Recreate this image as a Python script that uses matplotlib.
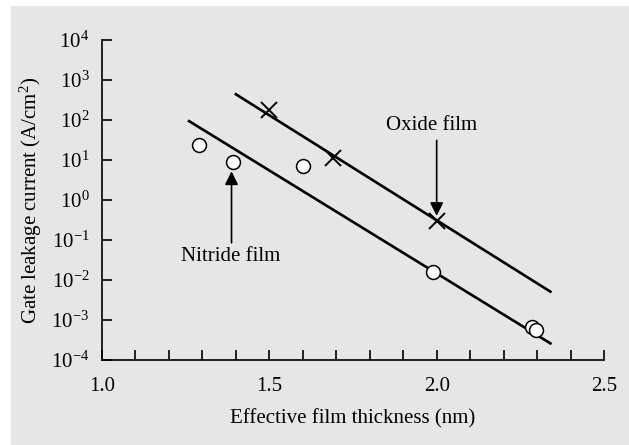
import numpy as np
import matplotlib.pyplot as plt
from matplotlib.patches import Rectangle

plt.rcParams['font.family'] = ['Liberation Serif', 'DejaVu Serif']
plt.rcParams['mathtext.fontset'] = 'custom'
plt.rcParams['mathtext.rm'] = 'Liberation Serif'
plt.rcParams['mathtext.it'] = 'Liberation Serif:italic'

# measured points
nitride_x = [1.29, 1.39, 1.60, 1.99, 2.286, 2.296]
nitride_y = [24, 9.1, 7.1, 0.016, 6.6e-4, 5.6e-4]
oxide_x = [1.50, 1.69, 2.00]
oxide_y = [178, 11, 0.30]

# fitted lines (end points)
nitride_fit_x = [1.26, 2.34]
nitride_fit_y = [94, 2.6e-4]
oxide_fit_x = [1.40, 2.34]
oxide_fit_y = [440, 5.1e-3]

ytick_vals = [10.0**e for e in range(-4, 5)]
ytick_labels = [r'$10^{%d}$' % e for e in range(-4, 5)]

fs = 15

fig = plt.figure(figsize=(6.29, 4.45), dpi=100, facecolor='white')
# grey panel behind the chart
fig.patches.append(Rectangle((11/629, 0), 1 - 11/629, 1 - 6/445,
                             transform=fig.transFigure, facecolor='#e6e6e6',
                             edgecolor='none', zorder=-10))
ax = fig.add_axes([102/629, 1 - 360/445, 502/629, 320/445])
ax.set_facecolor('none')

# fits
ax.plot(nitride_fit_x, nitride_fit_y, color='black', lw=1.9, zorder=2)
ax.plot(oxide_fit_x, oxide_fit_y, color='black', lw=1.9, zorder=2)
# data
ax.plot(nitride_x, nitride_y, 'o', ms=10, mfc='white', mec='black',
        mew=1.1, zorder=3)
ax.plot(oxide_x, oxide_y, 'x', ms=11, mec='black', mew=1.4, zorder=3)

# setup axes
ax.set_yscale('log')
ax.set_xlim(1.0, 2.5)
ax.set_ylim(1e-4, 1e4)
ax.set_yticks(ytick_vals)
ax.set_yticklabels(ytick_labels)
ax.yaxis.set_minor_locator(plt.NullLocator())
ax.set_xticks(np.arange(1.0, 2.51, 0.5))
ax.set_xticklabels(['1.0', '1.5', '2.0', '2.5'])
ax.set_xticks(np.arange(1.0, 2.51, 0.1), minor=True)
ax.tick_params(which='both', direction='in', length=7, width=1.2,
               labelsize=fs)
ax.tick_params(axis='y', pad=9)
ax.tick_params(axis='x', pad=12)
for side in ['top', 'right']:
    ax.spines[side].set_visible(False)
for side in ['left', 'bottom']:
    ax.spines[side].set_linewidth(1.2)
ax.set_xlabel('Effective film thickness (nm)', fontsize=fs, labelpad=10)
ax.set_ylabel('Gate leakage current (A/cm$^2$)', fontsize=fs, labelpad=5)

# annotations
ax.annotate('', xy=(2.0, 0.40), xytext=(2.0, 31),
            arrowprops=dict(arrowstyle='-|>', color='black', lw=1.2,
                            mutation_scale=20, shrinkA=0, shrinkB=0))
ax.text(1.985, 42, 'Oxide film', fontsize=fs, ha='center', va='bottom')
ax.annotate('', xy=(1.387, 5.2), xytext=(1.387, 0.085),
            arrowprops=dict(arrowstyle='-|>', color='black', lw=1.2,
                            mutation_scale=20, shrinkA=0, shrinkB=0))
ax.text(1.385, 0.065, 'Nitride film', fontsize=fs, ha='center', va='top')

fig.savefig('out.png', dpi=100)
